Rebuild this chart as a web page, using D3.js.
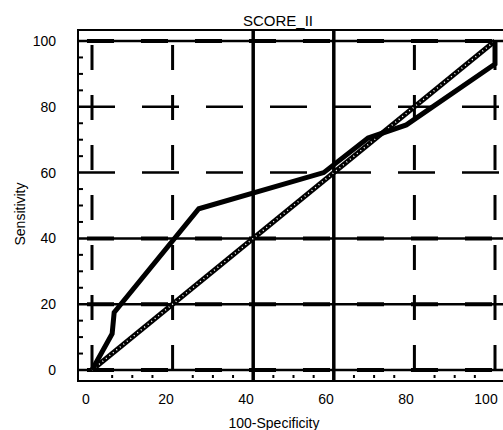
<!DOCTYPE html>
<html>
<head>
<meta charset="utf-8">
<script src="https://cdn.jsdelivr.net/npm/d3@7"></script>
<style>
  body { margin: 0; background: #fff; }
  text { font-family: Arial, "Liberation Sans", sans-serif; font-size: 14px; fill: #000; }
</style>
</head>
<body>
<div class="roc"></div>
<script>
// ROC curve (100-specificity, sensitivity)
var rocX = [0, 5, 5.5, 26.5, 57.5, 68.5, 78, 100, 100];
var rocY = [0, 11, 17.5, 49, 60, 70.5, 74.5, 93, 100];
var diagX = [0, 100], diagY = [0, 100];

var ticks = [0, 20, 40, 60, 80, 100];
var minorTicks = d3.range(5, 100, 5).filter(function (d) { return d % 20 !== 0; });
var solidH = [100, 40, 20, 0], dashedH = [80, 60];
var solidV = [40, 60], dashedV = [0, 20, 80, 100];

const svg = d3.select('.roc').append('svg').attr('width', 503).attr('height', 430);

var x = d3.scaleLinear().domain([0, 100]).range([92, 495]);
var y = d3.scaleLinear().domain([0, 100]).range([370, 41]);

var frame = {left: 78, top: 30, right: 504, bottom: 381};

// frame
svg.append('rect')
    .attr('x', frame.left).attr('y', frame.top)
    .attr('width', frame.right - frame.left).attr('height', frame.bottom - frame.top)
    .style('fill', 'none').style('stroke', '#000').style('stroke-width', 2)

// dashed grid lines
svg.selectAll('.dh').data(dashedH).enter().append('line')
    .attr('x1', frame.left).attr('x2', frame.right)
    .attr('y1', d => y(d)).attr('y2', d => y(d))
    .style('stroke', '#000').style('stroke-width', 2.5).style('stroke-dasharray', '37,27')

svg.selectAll('.dv').data(dashedV).enter().append('line')
    .attr('y1', y(100) + 4).attr('y2', frame.bottom)
    .attr('x1', d => x(d)).attr('x2', d => x(d))
    .style('stroke', '#000').style('stroke-width', 3).style('stroke-dasharray', '25,25')

// solid grid lines (thin line with heavier dashes on top)
svg.selectAll('.sh').data(solidH).enter().append('line')
    .attr('x1', frame.left).attr('x2', frame.right)
    .attr('y1', d => y(d)).attr('y2', d => y(d))
    .style('stroke', '#000').style('stroke-width', 2.5)
svg.selectAll('.sh2').data(solidH).enter().append('line')
    .attr('x1', frame.left + 9).attr('x2', frame.right)
    .attr('y1', d => y(d)).attr('y2', d => y(d))
    .style('stroke', '#000').style('stroke-width', 4).style('stroke-dasharray', '27,27')

svg.selectAll('.sv').data(solidV).enter().append('line')
    .attr('y1', frame.top).attr('y2', frame.bottom)
    .attr('x1', d => x(d)).attr('x2', d => x(d))
    .style('stroke', '#000').style('stroke-width', 3.5)

// minor ticks
svg.selectAll('.my').data(minorTicks).enter().append('line')
    .attr('x1', frame.left).attr('x2', frame.left + 5)
    .attr('y1', d => y(d)).attr('y2', d => y(d))
    .style('stroke', '#000').style('stroke-width', 2)
svg.selectAll('.mx').data(minorTicks).enter().append('line')
    .attr('y1', frame.bottom - 6).attr('y2', frame.bottom - 3)
    .attr('x1', d => x(d)).attr('x2', d => x(d))
    .style('stroke', '#000').style('stroke-width', 2)

// diagonal reference line, hatched
var line = d3.line().x(d => x(d[0])).y(d => y(d[1]));
var diag = d3.zip(diagX, diagY);
svg.append('path').datum(diag).attr('d', line)
    .style('fill', 'none').style('stroke', '#000').style('stroke-width', 5)
svg.append('path').datum(diag).attr('d', line)
    .style('fill', 'none').style('stroke', '#fff').style('stroke-width', 1.5).style('stroke-dasharray', '1,3.5')

// ROC curve
svg.append('path').datum(d3.zip(rocX, rocY)).attr('d', line)
    .style('fill', 'none').style('stroke', '#000').style('stroke-width', 5)
    .style('stroke-linejoin', 'miter')

// tick labels
svg.selectAll('.ty').data(ticks).enter().append('text')
    .attr('x', 56).attr('y', d => y(d) + 5)
    .attr('text-anchor', 'end')
    .text(d => d)
svg.selectAll('.tx').data(ticks).enter().append('text')
    .attr('x', d => x(d) - 6 - d * 0.03).attr('y', 404)
    .attr('text-anchor', 'middle')
    .text(d => d)

// titles
svg.append('text').attr('x', 278).attr('y', 26).attr('text-anchor', 'middle')
    .style('font-size', '15px').text('SCORE_II')
svg.append('text').attr('x', 274).attr('y', 428).attr('text-anchor', 'middle').text('100-Specificity')
svg.append('text').attr('transform', 'translate(25,214) rotate(-90)')
    .attr('text-anchor', 'middle').text('Sensitivity')
</script>
</body>
</html>
